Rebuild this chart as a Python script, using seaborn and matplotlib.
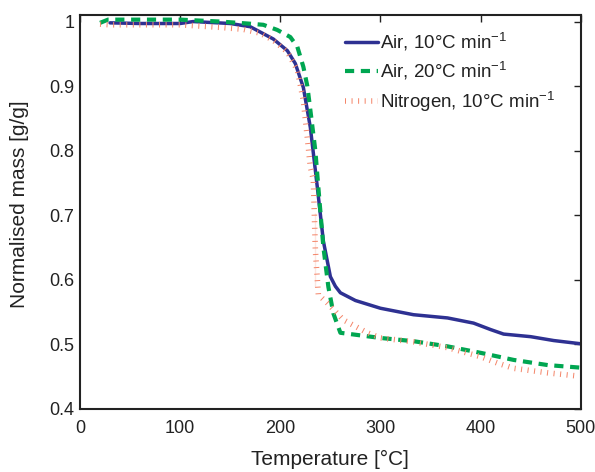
import pandas as pd
import seaborn as sns
import matplotlib.pyplot as plt
from matplotlib.ticker import FuncFormatter

# Air, 10 C/min
air10_t = [30, 60, 100, 113, 150, 170, 193, 207, 215, 223, 230, 237, 243, 250, 255, 260, 275, 300, 333, 367, 393, 410, 423, 450, 473, 500]
air10_m = [0.998, 0.997, 0.997, 1.000, 0.997, 0.992, 0.973, 0.955, 0.935, 0.898, 0.836, 0.743, 0.660, 0.605, 0.590, 0.580, 0.568, 0.556, 0.546, 0.541, 0.533, 0.523, 0.516, 0.512, 0.506, 0.501]

# Air, 20 C/min
air20_t = [20, 28, 60, 100, 140, 167, 183, 197, 210, 217, 223, 227, 230, 235, 238, 243, 248, 253, 260, 300, 333, 367, 400, 433, 467, 500]
air20_m = [0.998, 1.003, 1.003, 1.003, 1.000, 0.997, 0.995, 0.987, 0.976, 0.961, 0.930, 0.900, 0.863, 0.800, 0.743, 0.651, 0.589, 0.548, 0.518, 0.510, 0.505, 0.497, 0.487, 0.476, 0.468, 0.464]

# Nitrogen, 10 C/min
n2_t = [20, 30, 60, 100, 140, 163, 180, 193, 207, 217, 223, 227, 230, 233, 235, 235, 238, 247, 263, 287, 300, 333, 367, 400, 417, 433, 467, 497]
n2_m = [0.996, 0.995, 0.995, 0.995, 0.991, 0.988, 0.982, 0.971, 0.953, 0.925, 0.878, 0.820, 0.775, 0.755, 0.704, 0.589, 0.577, 0.564, 0.538, 0.518, 0.510, 0.504, 0.495, 0.481, 0.471, 0.463, 0.456, 0.451]

labels = ['Air, 10°C min$^{-1}$', 'Air, 20°C min$^{-1}$', 'Nitrogen, 10°C min$^{-1}$']

sns.set_style('white')
plt.rcParams['font.family'] = ['Liberation Sans', 'DejaVu Sans']
plt.rcParams['mathtext.fontset'] = 'custom'
plt.rcParams['mathtext.rm'] = 'Liberation Sans'

fig = plt.figure(figsize=(5.95, 4.72), dpi=100)
ax = fig.add_axes([0.1345, 0.1335, 0.8415, 0.8345])

sns.lineplot(x=air10_t, y=air10_m, ax=ax, color='#2e3192', linewidth=2.5,
             label=labels[0], sort=False)
sns.lineplot(x=air20_t, y=air20_m, ax=ax, color='#00a651', linewidth=3,
             linestyle=(0, (2.2, 1.6)), label=labels[1], sort=False)
sns.lineplot(x=n2_t, y=n2_m, ax=ax, color='#f4866a', linewidth=4,
             linestyle=(0, (0.18, 1.0)), label=labels[2], sort=False)
for ln in ax.lines:
    ln.set_dash_capstyle('butt')

ax.set_xlim(0, 500)
ax.set_ylim(0.4, 1.01)
ax.set_xticks([0, 100, 200, 300, 400, 500])
ax.set_yticks([0.4, 0.5, 0.6, 0.7, 0.8, 0.9, 1.0])
ax.yaxis.set_major_formatter(FuncFormatter(lambda v, p: '1' if abs(v - 1) < 1e-9 else f'{v:.1f}'))
ax.tick_params(direction='in', length=5, width=1, top=True, right=True,
               labelsize=13, colors='#222222', pad=4)
ax.tick_params(axis='x', pad=8)
for s in ax.spines.values():
    s.set_linewidth(1.5)
    s.set_color('#222222')

ax.set_xlabel('Temperature [°C]', fontsize=15, labelpad=9, color='#222222')
ax.set_ylabel('Normalised mass [g/g]', fontsize=15, color='#222222')
ax.yaxis.set_label_coords(-0.102, 0.52)

leg = ax.legend(loc='upper right', frameon=False, fontsize=13.5, handlelength=1.75,
                handletextpad=0.12, labelspacing=0.35, borderaxespad=0.4,
                bbox_to_anchor=(0.98, 1.0))
for t in leg.get_texts():
    t.set_color('#222222')

plt.savefig('out.png', dpi=100)
